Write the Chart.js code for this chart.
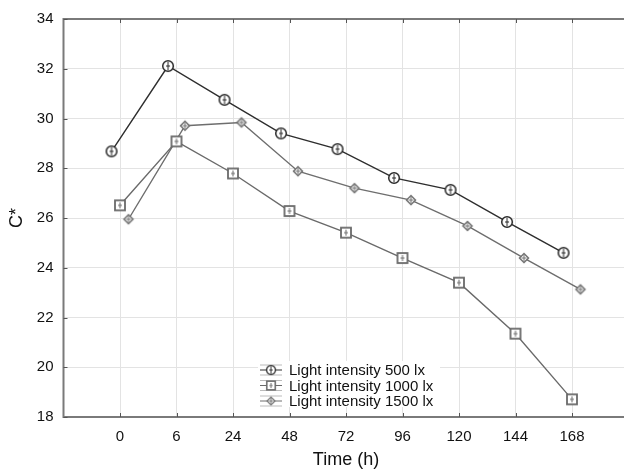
<!DOCTYPE html>
<html>
<head>
<meta charset="utf-8">
<script src="https://cdn.jsdelivr.net/npm/chart.js@4.4.1/dist/chart.umd.min.js"></script>
<style>
  html, body { margin: 0; padding: 0; background: #fff; overflow: hidden; }
  #wrap { width: 624px; height: 472px; overflow: hidden; }
  canvas { display: block; }
</style>
</head>
<body>
<div id="wrap"><canvas id="chart" width="660" height="472"></canvas></div>
<script>
// Data
const timeLabels = ['0', '6', '24', '48', '72', '96', '120', '144', '168'];
const seriesNames = ['Light intensity 500 lx', 'Light intensity 1000 lx', 'Light intensity 1500 lx'];
const lux500 = [28.68, 32.11, 30.75, 29.40, 28.77, 27.61, 27.13, 25.84, 24.60];
const lux1000 = [26.51, 29.08, 27.79, 26.28, 25.41, 24.39, 23.40, 21.35, 18.71];
const lux1500 = [25.95, 29.71, 29.84, 27.88, 27.20, 26.72, 25.68, 24.39, 23.13];
const yTicks = [18, 20, 22, 24, 26, 28, 30, 32, 34];

const FONT = "'Liberation Sans', Arial, sans-serif";
const dodge = 0.15; // small horizontal shift between series

// Marker images (circle / square / diamond with tiny error bar)
function makeMarker(kind) {
    const c = document.createElement('canvas');
    c.width = 14; c.height = 14;
    const g = c.getContext('2d');
    g.lineWidth = 1.5;
    if (kind === 'circle') {
        g.strokeStyle = '#262626';
        g.fillStyle = '#fff';
        g.beginPath(); g.arc(7, 7, 5.3, 0, Math.PI * 2); g.fill(); g.stroke();
        g.lineWidth = 1;
        g.beginPath(); g.moveTo(7, 3); g.lineTo(7, 11); g.moveTo(5, 7); g.lineTo(9, 7); g.stroke();
    } else if (kind === 'square') {
        g.strokeStyle = '#6a6a6a';
        g.fillStyle = '#fff';
        g.lineWidth = 1.8;
        g.fillRect(2, 2, 10, 10); g.strokeRect(2, 2, 10, 10);
        g.lineWidth = 1;
        g.beginPath(); g.moveTo(7, 4); g.lineTo(7, 10); g.moveTo(5, 7); g.lineTo(9, 7); g.stroke();
    } else {
        g.strokeStyle = '#707070';
        g.fillStyle = '#fff';
        g.beginPath(); g.moveTo(7, 2.5); g.lineTo(11.5, 7); g.lineTo(7, 11.5); g.lineTo(2.5, 7); g.closePath();
        g.fill(); g.stroke();
        g.lineWidth = 1;
        g.beginPath(); g.moveTo(7, 4); g.lineTo(7, 10); g.moveTo(4.5, 7); g.lineTo(9.5, 7); g.stroke();
    }
    return c;
}

const markers = [makeMarker('circle'), makeMarker('square'), makeMarker('diamond')];
const lineColors = ['#2e2e2e', '#6a6a6a', '#6e6e6e'];
const allSeries = [lux500, lux1000, lux1500];
const offsets = [-dodge, 0, dodge];

const datasets = allSeries.map((values, s) => ({
    label: seriesNames[s],
    data: values.map((v, i) => ({ x: i + 1 + offsets[s], y: v })),
    borderColor: lineColors[s],
    borderWidth: 1.4,
    pointStyle: markers[s],
    pointRadius: 6,
    tension: 0,
    fill: false
}));

// Frame, inner tick marks and in-plot legend
const framePlugin = {
    id: 'frame',
    afterDatasetsDraw(chart) {
        const { ctx, chartArea: a, scales } = chart;
        ctx.save();

        // legend box
        const lx = 258, ly = 361, rowH = 15.5;
        ctx.fillStyle = '#fff';
        ctx.fillRect(lx, ly, 182, 46);
        ctx.font = '15px ' + FONT;
        ctx.textBaseline = 'middle';
        ctx.fillStyle = '#111';
        chart.data.datasets.forEach((ds, s) => {
            const cy = ly + 9 + s * rowH;
            ctx.strokeStyle = '#bbb';
            ctx.lineWidth = 1;
            ctx.beginPath();
            ctx.moveTo(260, cy - 5); ctx.lineTo(282, cy - 5);
            ctx.moveTo(260, cy + 5); ctx.lineTo(282, cy + 5);
            ctx.stroke();
            ctx.strokeStyle = ds.borderColor;
            ctx.beginPath(); ctx.moveTo(260, cy); ctx.lineTo(282, cy); ctx.stroke();
            ctx.drawImage(markers[s], 271 - 6, cy - 6, 12, 12);
            ctx.fillText(ds.label, 289, cy + 1);
        });

        // frame
        ctx.strokeStyle = '#7a7a7a';
        ctx.lineWidth = 2;
        ctx.beginPath();
        ctx.moveTo(a.right + 10, a.top);
        ctx.lineTo(a.left, a.top);
        ctx.lineTo(a.left, a.bottom);
        ctx.lineTo(a.right + 10, a.bottom);
        ctx.stroke();

        // inner tick marks
        ctx.strokeStyle = '#555';
        ctx.lineWidth = 1;
        ctx.beginPath();
        for (let i = 1; i <= timeLabels.length; i++) {
            const px = Math.round(scales.x.getPixelForValue(i)) + 0.5;
            ctx.moveTo(px, a.bottom); ctx.lineTo(px, a.bottom - 4);
            ctx.moveTo(px, a.top); ctx.lineTo(px, a.top + 4);
        }
        yTicks.forEach(v => {
            const py = Math.round(scales.y.getPixelForValue(v)) + 0.5;
            ctx.moveTo(a.left, py); ctx.lineTo(a.left + 4, py);
        });
        ctx.stroke();
        ctx.restore();
    }
};

new Chart(document.getElementById('chart'), {
    type: 'line',
    data: { datasets },
    options: {
        responsive: false,
        animation: false,
        layout: { padding: { top: 17, right: 31.5, left: 0, bottom: 0 } },
        plugins: { legend: { display: false }, tooltip: { enabled: false } },
        scales: {
            x: {
                type: 'linear',
                min: 0,
                max: 10,
                afterFit(scale) { scale.height = 55; },
                afterBuildTicks(scale) {
                    scale.ticks = [0, 1, 2, 3, 4, 5, 6, 7, 8, 9, 10].map(v => ({ value: v }));
                },
                ticks: {
                    autoSkip: false,
                    maxRotation: 0,
                    padding: 11,
                    color: '#111',
                    font: { family: FONT, size: 15 },
                    callback: v => timeLabels[v - 1] || ''
                },
                grid: { color: '#e3e3e3', lineWidth: 1, drawTicks: false },
                border: { display: false },
                title: {
                    display: true,
                    text: 'Time (h)',
                    color: '#111',
                    font: { family: FONT, size: 18 },
                    padding: { top: 0, bottom: 1 }
                }
            },
            y: {
                min: 18,
                max: 34,
                afterFit(scale) { scale.width = 63.5; },
                afterBuildTicks(scale) {
                    scale.ticks = yTicks.map(v => ({ value: v }));
                },
                ticks: {
                    padding: 10,
                    color: '#111',
                    font: { family: FONT, size: 15 }
                },
                grid: { color: '#e3e3e3', lineWidth: 1, drawTicks: false },
                border: { display: false },
                title: {
                    display: true,
                    text: 'C*',
                    color: '#111',
                    font: { family: FONT, size: 18 },
                    padding: { top: 6, bottom: 0 }
                }
            }
        }
    },
    plugins: [framePlugin]
});
</script>
</body>
</html>
